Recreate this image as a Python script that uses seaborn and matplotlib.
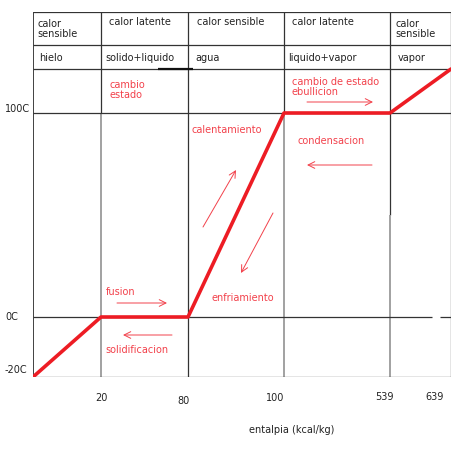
import numpy as np
import matplotlib
matplotlib.use("Agg")
import matplotlib.pyplot as plt
import seaborn as sns

# enthalpy (kcal/kg) and temperature (C) of the heating curve
enthalpy = [0, 20, 80, 100, 539, 639]
temperature = [-20, 0, 0, 100, 100, 120]

x_tick_labels = ["20", "80", "100", "539", "639"]
y_tick_values = [100, 0, -20]
y_tick_labels = ["100C", "0C", "-20C"]

row_heat = ["calor\nsensible", "calor latente", "calor sensible", "calor latente", "calor\nsensible"]
row_phase = ["hielo", "solido+liquido", "agua", "liquido+vapor", "vapor"]

# piecewise screen layout of the hand drawn scales
x_anchor = [0, 20, 80, 100, 539, 639]
x_pix = [33, 101, 188, 284, 390, 451]
y_anchor = [-20, 0, 100, 120, 140, 160]
y_pix = [73, 133, 337, 381, 405, 438]

W, H = 471, 450
DARK = "#333333"
GRAY = "#9a9a9a"
RED = "#ed1c24"
PINK = "#f2414b"
FS = 7.0

sns.set_style("white")
plt.rcParams['font.family'] = ['DejaVu Sans']

fig = plt.figure(figsize=(W / 100, H / 100), dpi=100)
ax = fig.add_axes([33 / W, 73 / H, (451 - 33) / W, (438 - 73) / H])

ax.set_xscale('function', functions=(lambda v: np.interp(v, x_anchor, x_pix),
                                     lambda p: np.interp(p, x_pix, x_anchor)))
ax.set_yscale('function', functions=(lambda v: np.interp(v, y_anchor, y_pix),
                                     lambda p: np.interp(p, y_pix, y_anchor)))
ax.set_xlim(0, 639)
ax.set_ylim(-20, 160)
for s in ax.spines.values():
    s.set_visible(False)
ax.set_xticks([])
ax.set_yticks([])

# grid of the drawing
ax.vlines(0, -20, 160, color=DARK, lw=1.3)
ax.vlines(20, 100, 160, color=DARK, lw=0.9)
ax.vlines(20, -20, 100, color=GRAY, lw=1.3)
ax.vlines(80, -20, 160, color=DARK, lw=0.9)
ax.vlines(100, 100, 160, color=DARK, lw=0.9)
ax.vlines(100, -20, 100, color=GRAY, lw=1.3)
ax.vlines(539, 50, 160, color=DARK, lw=0.9)
ax.vlines(539, -20, 50, color=GRAY, lw=1.3)
ax.vlines(639, -21.5, 160, color=DARK, lw=0.9)
for t in [160, 140, 120, 100, -20]:
    ax.hlines(t, 0, 639, color=DARK, lw=0.9)
ax.hlines(0, 0, 608, color=DARK, lw=0.9)
ax.hlines(0, 621, 639, color=DARK, lw=0.9)
ax.hlines(120, 59, 81, color="#111111", lw=1.6)

sns.lineplot(x=enthalpy, y=temperature, ax=ax, color=RED, lw=2.6,
             sort=False, estimator=None, solid_capstyle='round')

# table texts
tab_x = [37, 109, 197, 292, 395]
tab_x2 = [39, 105, 195, 288, 398]
for lbl, xp in zip(row_heat, tab_x):
    yy = 450 - (29 if "\n" in lbl else 22)
    fig.text(xp / W, yy / H, lbl, fontsize=FS, va='center', ha='left',
             linespacing=1.0, color="#222222")
for lbl, xp in zip(row_phase, tab_x2):
    fig.text(xp / W, (450 - 58) / H, lbl, fontsize=FS, va='center', ha='left', color="#222222")

# axis labels
y_off = [4, 0, 7]
for t, lbl, off in zip(y_tick_values, y_tick_labels, y_off):
    ax.annotate(lbl, xy=(5 / W, t), xycoords=('figure fraction', 'data'),
                xytext=(0, off), textcoords='offset pixels',
                fontsize=FS, ha='left', va='center', color="#222222")
x_off = [0, -5, -9, -6, -16]
x_up = [0, -3, 0, 1, 1]
for e, lbl, off, up in zip(enthalpy[1:], x_tick_labels, x_off, x_up):
    ax.annotate(lbl, xy=(e, 52), xycoords=('data', 'figure pixels'),
                xytext=(off, up), textcoords='offset pixels',
                fontsize=FS, ha='center', va='center', color="#222222")
fig.text(292 / W, (450 - 430) / H, "entalpia (kcal/kg)", fontsize=FS,
         ha='center', va='center', color="#222222")

# red notes
notes = [
    ("cambio\nestado", 110, 90),
    ("cambio de estado\nebullicion", 292, 87),
    ("calentamiento", 192, 130),
    ("condensacion", 297, 141),
    ("fusion", 106, 292),
    ("enfriamiento", 211, 298),
    ("solidificacion", 105, 350),
]
for lbl, xp, yp in notes:
    fig.text(xp / W, (450 - yp) / H, lbl, fontsize=FS, ha='left', va='center',
             color=PINK, linespacing=1.0)

arrows = [
    ((307, 102), (373, 102)),
    ((203, 227), (236, 170)),
    ((372, 165), (307, 165)),
    ((273, 213), (241, 273)),
    ((117, 303), (167, 303)),
    ((172, 335), (123, 335)),
]
for (x0, y0), (x1, y1) in arrows:
    ax.annotate("", xy=(x1, H - y1), xycoords='figure pixels',
                xytext=(x0, H - y0), textcoords='figure pixels',
                arrowprops=dict(arrowstyle='->', color=PINK, lw=0.7,
                                mutation_scale=12, shrinkA=0, shrinkB=0))

fig.savefig("out.png", dpi=100)
